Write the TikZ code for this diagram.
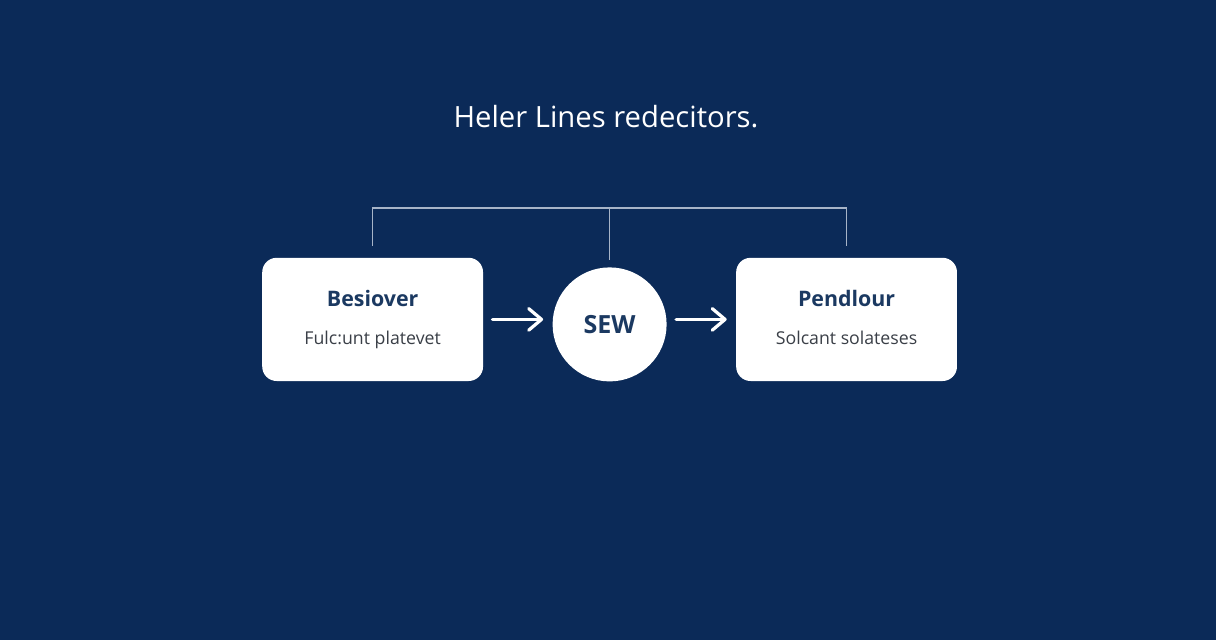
\documentclass[tikz,border=0pt]{standalone}
\usepackage{fontspec}
\setmainfont{Open Sans}
\usetikzlibrary{positioning,arrows.meta,calc}

\definecolor{pagebg}{HTML}{0B2A58}
\definecolor{navytext}{HTML}{1B3961}
\definecolor{graytext}{HTML}{3A3F47}
\definecolor{busline}{HTML}{A7B4C8}

\newcommand{\stagetext}[2]{{\fontsize{15.2}{18}\selectfont\bfseries\color{navytext}\vphantom{Bp}#1}\\[13pt]{\fontsize{12.6}{15}\selectfont\color{graytext}\vphantom{Bp}#2}}

\begin{document}
\begin{tikzpicture}[
    node distance=5mm and 17.25mm,
    stage/.style={rectangle, rounded corners=3.6mm, fill=white, draw=none, align=center, minimum width=55.2mm, minimum height=30.8mm, inner sep=0pt},
    hub/.style={circle, fill=white, draw=none, minimum size=28.5mm, inner sep=0pt, font=\fontsize{17.8}{20}\selectfont\bfseries, text=navytext},
    bus/.style={draw=busline, line width=0.9pt},
    arr/.style={-{Straight Barb[length=3.2mm, width=5.4mm, line width=2.3pt, round]}, line width=2.3pt, white, line cap=round, shorten <=2.3mm, shorten >=2.3mm}
]
% background and frame
\fill[pagebg] (0,0) rectangle (30.4,-16);
\useasboundingbox (0,0) rectangle (30.4,-16);

\node[font=\fontsize{20.8}{24}\selectfont, text=white, anchor=base] (heading) at (15.15,-3.19) {Heler Lines redecitors.};

\node[hub] (sew) at (15.24,-8.11) {SEW};
\node[stage, left=of sew, yshift=1.25mm] (source) {\stagetext{Besiover}{Fulc:unt platevet}};
\node[stage, right=of sew, yshift=1.25mm] (target) {\stagetext{Pendlour}{Solcant solateses}};

% top bus
\coordinate (busmid) at ($(sew.north)+(0,1.48)$);
\draw[bus] ([yshift=3mm]source.north) |- (busmid) -| ([yshift=3mm]target.north);
\draw[bus] (busmid) -- ([yshift=1.8mm]sew.north);

\draw[arr] (source) -- (source.east -| sew.west);
\draw[arr] (sew.east |- target.west) -- (target);

\end{tikzpicture}
\end{document}
